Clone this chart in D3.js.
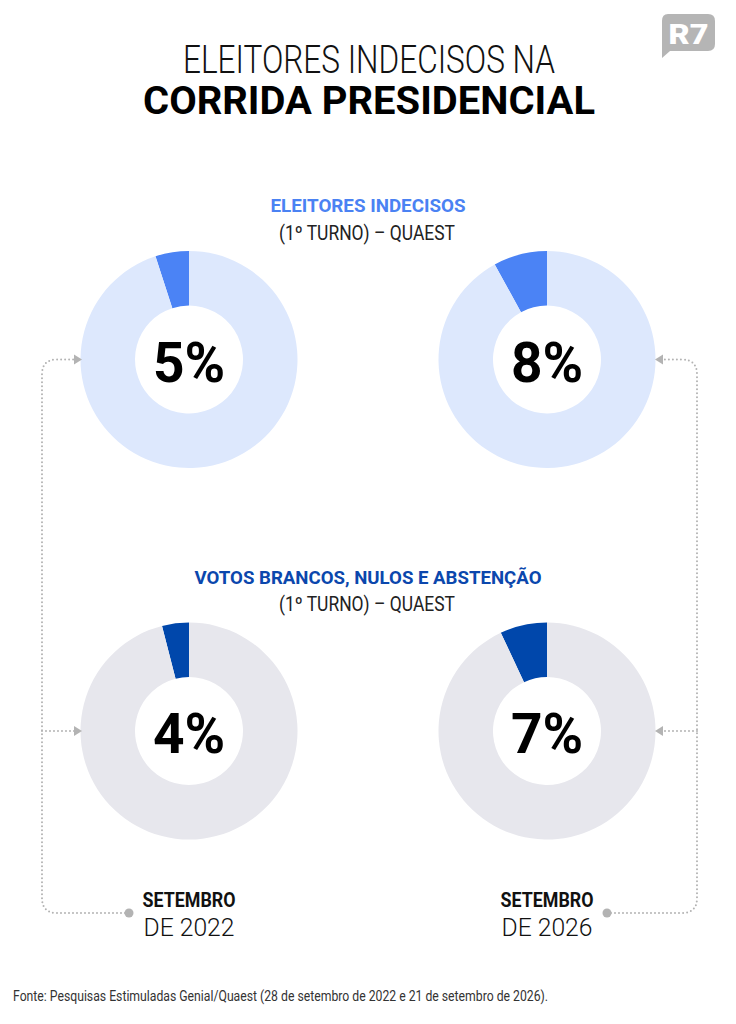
<!DOCTYPE html>
<html><head><meta charset="utf-8">
<script src="https://cdn.jsdelivr.net/npm/d3@7"></script>
<style>body{margin:0;background:#fff}svg{display:block}</style>
</head><body>
<script>
const titleLines = ["ELEITORES INDECISOS NA", "CORRIDA PRESIDENCIAL"];
const panelTitles = ["ELEITORES INDECISOS", "VOTOS BRANCOS, NULOS E ABSTENÇÃO"];
const panelSub = "(1º TURNO) – QUAEST";
const periods = ["2022", "2026"];
const periodTop = ["SETEMBRO", "SETEMBRO"];
const periodBottom = ["DE 2022", "DE 2026"];
const indecisos = [5, 8];
const brancosNulos = [4, 7];
const footer = "Fonte: Pesquisas Estimuladas Genial/Quaest (28 de setembro de 2022 e 21 de setembro de 2026).";

const W = 736, H = 1024;
const svg = d3.select("body").append("svg").attr("width", W).attr("height", H);
const font = "Roboto, 'Open Sans', sans-serif";

// logo
const logo = svg.append("g");
logo.append("path")
  .attr("d", "M668 14 H708 Q715 14 715 21 V44 Q715 51 708 51 H670 L662 58 V21 Q662 14 668 14 Z")
  .attr("fill", "#b5b5b5");
logo.append("text").attr("x", 688.5).attr("y", 44).attr("text-anchor", "middle")
  .attr("font-family", font).attr("font-weight", 900).attr("font-size", 28)
  .attr("fill", "#fff").attr("textLength", 40)
  .attr("lengthAdjust", "spacingAndGlyphs").text("R7");

// title
svg.append("text").attr("x", 369).attr("y", 73).attr("text-anchor", "middle")
  .attr("font-family", font).attr("font-weight", 300).attr("font-size", 39).attr("fill", "#111")
  .attr("textLength", 372).attr("lengthAdjust", "spacingAndGlyphs").text(titleLines[0]);
svg.append("text").attr("x", 369).attr("y", 114).attr("text-anchor", "middle")
  .attr("font-family", font).attr("font-weight", 700).attr("font-size", 39).attr("fill", "#000")
  .attr("textLength", 452).attr("lengthAdjust", "spacingAndGlyphs").text(titleLines[1]);

const x = d3.scalePoint().domain(periods).range([189, 547]);
const y = d3.scalePoint().domain([0, 1]).range([359.5, 731]);

const rows = [
  {values: indecisos, main: "#4b83f5", rest: "#dde8fd", title: panelTitles[0], titleColor: "#4a82f3", titleW: 195},
  {values: brancosNulos, main: "#0047ab", rest: "#e7e7ed", title: panelTitles[1], titleColor: "#0b47ad", titleW: 347}
];

const arc = d3.arc().innerRadius(54).outerRadius(108.5);

rows.forEach((row, ri) => {
  const cy = y(ri);
  svg.append("text").attr("x", 368).attr("y", cy - 147.5).attr("text-anchor", "middle")
    .attr("font-family", font).attr("font-weight", 700).attr("font-size", 19).attr("fill", row.titleColor)
    .attr("textLength", row.titleW).attr("lengthAdjust", "spacingAndGlyphs").text(row.title);
  svg.append("text").attr("x", 367).attr("y", cy - 120).attr("text-anchor", "middle")
    .attr("font-family", font).attr("font-weight", 400).attr("font-size", 20).attr("fill", "#222")
    .attr("textLength", 176).attr("lengthAdjust", "spacingAndGlyphs").text(panelSub);

  row.values.forEach((v, ci) => {
    const cx = x(periods[ci]);
    const start = -v / 100 * 2 * Math.PI;
    const pie = d3.pie().sort(null).value(d => d).startAngle(start).endAngle(start + 2 * Math.PI);
    const g = svg.append("g").attr("transform", `translate(${cx},${cy})`);
    g.selectAll("path").data(pie([v, 100 - v])).join("path")
      .attr("d", arc).attr("fill", (d, i) => i === 0 ? row.main : row.rest);
    g.append("text").attr("y", 22).attr("text-anchor", "middle")
      .attr("font-family", font).attr("font-weight", 700).attr("font-size", 55).attr("fill", "#000")
      .text(v + "%");
  });
});

// period labels
periods.forEach((p, i) => {
  const cx = x(p);
  svg.append("text").attr("x", cx).attr("y", 906.5).attr("text-anchor", "middle")
    .attr("font-family", font).attr("font-weight", 700).attr("font-size", 20).attr("fill", "#111")
    .attr("textLength", 93).attr("lengthAdjust", "spacingAndGlyphs").text(periodTop[i]);
  svg.append("text").attr("x", cx).attr("y", 936).attr("text-anchor", "middle")
    .attr("font-family", font).attr("font-weight", 300).attr("font-size", 26.5).attr("fill", "#111")
    .attr("textLength", 91).attr("lengthAdjust", "spacingAndGlyphs").text(periodBottom[i]);
});

// connectors
const gray = "#b3b3b3";
function dotted(d) {
  svg.append("path").attr("d", d).attr("fill", "none").attr("stroke", gray)
    .attr("stroke-width", 2).attr("stroke-linecap", "round").attr("stroke-dasharray", "0 4");
}
function arrow(tx, ty, dir) {
  svg.append("path").attr("d", `M${tx} ${ty} L${tx - dir * 8} ${ty - 5} L${tx - dir * 8} ${ty + 5} Z`).attr("fill", gray);
}
const leftX = 42, rightX = 697, r = 15;
dotted(`M125 913 H${leftX + r} Q${leftX} 913 ${leftX} ${913 - r} V${y(0) + r} Q${leftX} ${y(0)} ${leftX + r} ${y(0)} H75`);
dotted(`M${leftX} ${y(1)} H75`);
arrow(82, y(0), 1); arrow(82, y(1), 1);
svg.append("circle").attr("cx", 129).attr("cy", 913).attr("r", 4.5).attr("fill", gray);

dotted(`M611 913 H${rightX - r} Q${rightX} 913 ${rightX} ${913 - r} V${y(0) + r} Q${rightX} ${y(0)} ${rightX - r} ${y(0)} H662`);
dotted(`M${rightX} ${y(1)} H662`);
arrow(655, y(0), -1); arrow(655, y(1), -1);
svg.append("circle").attr("cx", 607).attr("cy", 913).attr("r", 4.5).attr("fill", gray);

// footer
svg.append("text").attr("x", 13).attr("y", 1001)
  .attr("font-family", font).attr("font-weight", 400).attr("font-size", 14).attr("fill", "#333")
  .attr("textLength", 535).attr("lengthAdjust", "spacingAndGlyphs").text(footer);
</script>
</body></html>
